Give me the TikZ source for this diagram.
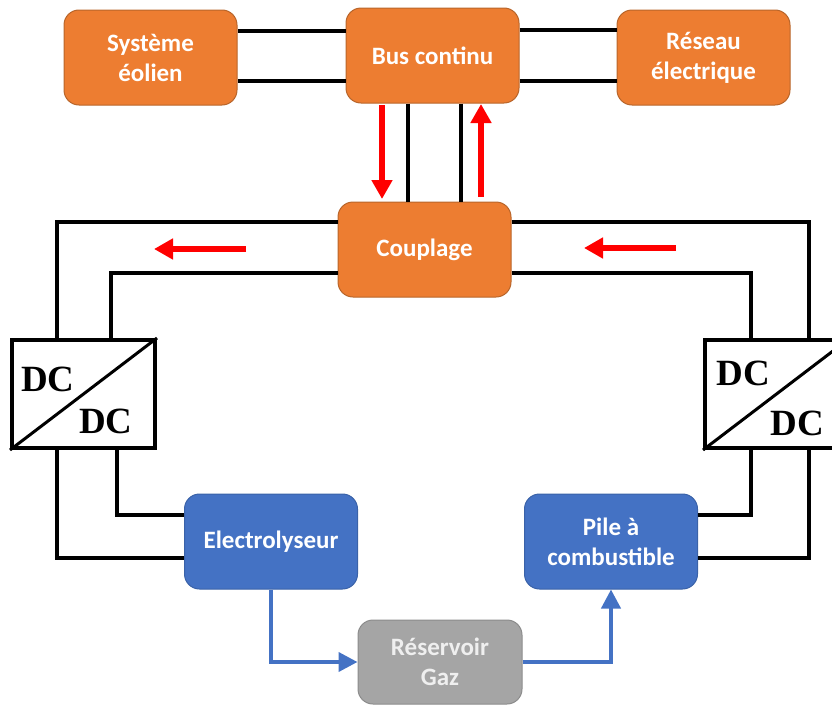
\documentclass[tikz,border=0pt]{standalone}
\usepackage{fontspec}
\setmainfont{Carlito}
\newfontfamily\dcfont{Liberation Serif}
\usetikzlibrary{arrows.meta,positioning}

\definecolor{orangeBloc}{HTML}{ED7D31}
\definecolor{orangeBord}{HTML}{B8652A}
\definecolor{bleuBloc}{HTML}{4472C4}
\definecolor{bleuBord}{HTML}{3A62A8}
\definecolor{grisBloc}{HTML}{A5A5A5}
\definecolor{grisBord}{HTML}{8C8C8C}
\definecolor{grisTexte}{HTML}{EFEFEF}

\tikzset{
  bloc/.style={rounded corners=15pt, minimum width=173pt, minimum height=95pt,
    inner sep=0pt, align=center, text=white, line width=1pt,
    font=\fontsize{25}{30}\selectfont\bfseries},
  orangebloc/.style={bloc, fill=orangeBloc, draw=orangeBord},
  bleubloc/.style={bloc, fill=bleuBloc, draw=bleuBord},
  grisbloc/.style={bloc, fill=grisBloc, draw=grisBord, text=grisTexte,
    minimum width=164pt, minimum height=84pt},
  conv/.style={draw, line width=4pt, fill=white, minimum width=143pt,
    minimum height=108pt, inner sep=0pt},
  dctexte/.style={font=\dcfont\fontsize{37}{37}\selectfont\bfseries, inner sep=0pt},
  fil/.style={line width=4pt, black},
  flux/.style={line width=6pt, red, -{Triangle[width=20pt,length=19pt]}},
  gaz/.style={line width=4pt, bleuBloc, -{Triangle[width=19pt,length=19pt]}},
}

\begin{document}
\begin{tikzpicture}[x=1pt,y=-1pt]
\useasboundingbox (0,0) rectangle (832,704);

% blocs du haut
\node[orangebloc] (eol) at (150.5,57.5) {Système\\éolien};
\node[orangebloc] (bus) at (432.5,55.5) {Bus continu};
\node[orangebloc] (res) at (703.5,57.5) {Réseau\\électrique};
\node[orangebloc] (coup) at (424.5,249.5) {Couplage};

% convertisseurs
\node[conv] (dcl) at (83.5,394) {};
\node[conv] (dcr) at (776.5,394) {};
\draw[line width=3pt] (dcl.south west) -- (dcl.north east);
\draw[line width=3pt] (dcr.south west) -- (dcr.north east);
\node[dctexte] (dcl1) at (48,379) {DC};
\node[dctexte] (dcl2) at (106,421) {DC};
\node[dctexte] (dcr1) at (743,373) {DC};
\node[dctexte] (dcr2) at (797,423) {DC};

% blocs du bas
\node[bleubloc] (elec) at (271,541.5) {Electrolyseur};
\node[bleubloc] (pile) at (611,541.5) {Pile à\\combustible};
\node[grisbloc] (gaz) at (440,662) {Réservoir\\Gaz};

% liaisons du bus
\draw[fil] ([yshift=25pt]bus.west) -- ([yshift=25pt]bus.west -| eol.east);
\draw[fil] ([yshift=-25pt]bus.west) -- ([yshift=-25pt]bus.west -| eol.east);
\draw[fil] ([yshift=26pt]bus.east) -- ([yshift=26pt]bus.east -| res.west);
\draw[fil] ([yshift=-25pt]bus.east) -- ([yshift=-25pt]bus.east -| res.west);
\draw[fil] ([xshift=-25pt]bus.south) -- ([xshift=-25pt]bus.south |- coup.north);
\draw[fil] ([xshift=28pt]bus.south) -- ([xshift=28pt]bus.south |- coup.north);

% boucles vers les convertisseurs
\coordinate (lo) at (57,222);
\coordinate (li) at (111,273);
\coordinate (ro) at (809,222);
\coordinate (ri) at (751,273);
\draw[fil] (coup.west |- lo) -| (lo |- dcl.north);
\draw[fil] (coup.west |- li) -| (li |- dcl.north);
\draw[fil] (coup.east |- ro) -| (ro |- dcr.north);
\draw[fil] (coup.east |- ri) -| (ri |- dcr.north);

\coordinate (lbo) at (57,558);
\coordinate (lbi) at (117,515);
\coordinate (rbo) at (809,558);
\coordinate (rbi) at (751,515);
\draw[fil] (lbi |- dcl.south) |- (elec.west |- lbi);
\draw[fil] (lbo |- dcl.south) |- (elec.west |- lbo);
\draw[fil] (rbi |- dcr.south) |- (pile.east |- rbi);
\draw[fil] (rbo |- dcr.south) |- (pile.east |- rbo);

% sens de l'energie
\coordinate (fd1) at (382,105);
\coordinate (fd2) at (382,199);
\coordinate (fu1) at (481,197);
\coordinate (fu2) at (481,104);
\coordinate (fl1) at (246,249);
\coordinate (fl2) at (154,249);
\coordinate (fr1) at (676,248);
\coordinate (fr2) at (584,248);
\draw[flux] (fd1) -- (fd2);
\draw[flux] (fu1) -- (fu2);
\draw[flux] (fl1) -- (fl2);
\draw[flux] (fr1) -- (fr2);

% circuit du gaz
\draw[gaz] (elec.south) |- (gaz.west);
\draw[gaz] (gaz.east) -| (pile.south);
\end{tikzpicture}
\end{document}
